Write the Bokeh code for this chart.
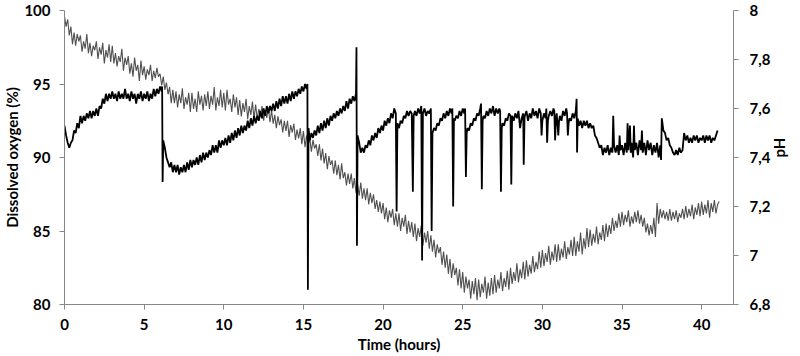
import math

from bokeh.embed import file_html
from bokeh.models import (ColumnDataSource, CustomJSTickFormatter, FixedTicker,
                          LinearAxis, Range1d)
from bokeh.plotting import figure
from bokeh.resources import INLINE

# Dissolved oxygen (%) logged every 0.1 h from t = 0, one row per hour
do_step_h = 0.1
do_values = [
    99.6, 98.9, 99.4, 98.3, 98.9, 97.7, 98.5, 97.6, 98.4, 97.9,
    98.3, 97.2, 97.9, 97.4, 98.4, 97.1, 97.8, 96.9, 97.6, 97.3,
    97.9, 96.7, 97.5, 97.0, 97.8, 96.4, 97.3, 96.8, 97.7, 96.5,
    97.6, 96.4, 97.1, 96.2, 96.9, 96.5, 97.4, 95.9, 96.8, 96.3,
    96.9, 95.7, 96.4, 95.5, 96.8, 95.9, 96.3, 95.2, 96.6, 95.6,
    96.2, 95.3, 96.0, 95.6, 96.3, 95.2, 95.9, 95.4, 96.1, 95.5,
    95.7, 94.9, 95.5, 94.6, 95.1, 94.3, 94.8, 93.7, 94.6, 93.7,
    94.5, 93.4, 94.3, 93.7, 94.7, 93.3, 94.1, 93.6, 94.4, 93.1,
    94.4, 93.3, 94.0, 93.1, 94.5, 93.6, 94.2, 93.2, 94.3, 93.5,
    94.5, 93.3, 94.2, 93.6, 94.8, 93.2, 94.1, 93.5, 94.6, 93.4,
    94.4, 93.2, 94.6, 93.6, 94.0, 93.1, 94.3, 93.4, 94.1, 92.9,
    93.9, 92.8, 93.7, 93.1, 94.0, 92.6, 93.5, 92.9, 93.8, 92.6,
    93.6, 92.6, 93.3, 92.8, 93.5, 92.5, 93.2, 92.7, 93.4, 92.4,
    93.2, 92.3, 92.9, 92.0, 92.8, 92.2, 92.6, 91.7, 92.5, 91.8,
    92.5, 91.4, 92.2, 91.7, 92.3, 91.2, 91.9, 91.3, 92.0, 90.9,
    91.8, 90.7, 91.5, 90.9, 91.3, 90.4, 91.2, 90.6, 90.9, 90.1,
    90.9, 89.8, 90.6, 89.6, 90.3, 89.2, 90.1, 89.5, 89.8, 88.9,
    89.8, 88.8, 89.5, 88.5, 89.6, 88.6, 89.0, 88.1, 88.9, 88.2,
    88.9, 87.9, 88.6, 87.6, 88.2, 87.4, 88.3, 87.2, 87.9, 87.1,
    87.9, 86.8, 87.6, 86.9, 87.5, 86.5, 87.1, 86.3, 87.0, 86.2,
    86.9, 85.8, 86.6, 85.6, 86.4, 85.9, 86.5, 85.4, 86.2, 85.3,
    86.2, 85.0, 85.9, 85.3, 86.1, 84.8, 85.7, 84.9, 85.6, 84.6,
    85.5, 84.3, 85.2, 84.6, 85.4, 84.0, 84.9, 84.2, 85.0, 83.8,
    84.7, 83.6, 84.4, 83.2, 84.1, 83.5, 83.9, 82.7, 83.6, 82.5,
    83.4, 82.1, 83.1, 81.8, 82.8, 82.0, 82.5, 81.3, 82.4, 81.1,
    82.2, 80.8, 81.9, 81.1, 81.7, 80.4, 81.6, 80.7, 81.8, 80.3,
    81.7, 80.5, 81.4, 80.8, 81.9, 80.4, 81.5, 80.6, 81.8, 80.7,
    82.0, 80.8, 81.7, 81.1, 82.2, 80.9, 81.8, 81.2, 82.3, 81.0,
    82.5, 81.4, 82.2, 81.6, 82.8, 81.5, 82.4, 81.8, 82.9, 81.7,
    83.0, 81.9, 82.7, 82.1, 83.3, 82.2, 82.9, 82.4, 83.6, 82.5,
    83.7, 82.6, 83.5, 82.9, 84.0, 82.7, 83.6, 83.0, 84.1, 82.9,
    84.1, 83.0, 83.8, 83.2, 84.3, 83.1, 83.9, 83.4, 84.4, 83.3,
    84.6, 83.3, 84.3, 83.6, 84.9, 83.4, 84.5, 83.8, 85.2, 83.9,
    85.1, 84.0, 84.8, 84.2, 85.3, 84.1, 84.9, 84.4, 85.4, 84.3,
    85.5, 84.6, 85.4, 84.8, 85.9, 85.0, 85.7, 85.2, 86.2, 85.3,
    86.3, 85.4, 86.1, 85.6, 86.4, 85.3, 86.0, 85.5, 86.3, 85.6,
    86.4, 85.5, 86.1, 85.3, 85.9, 84.9, 85.5, 84.7, 85.4, 84.8,
    85.9, 84.6, 86.9, 85.5, 86.5, 85.9, 86.4, 85.8, 86.3, 85.7,
    86.5, 85.7, 86.3, 85.8, 86.4, 85.6, 86.2, 85.9, 86.5, 85.8,
    86.7, 85.9, 86.5, 86.0, 86.8, 85.8, 86.6, 86.1, 86.9, 86.0,
    87.0, 86.1, 86.8, 86.2, 87.1, 85.9, 86.9, 86.3, 87.1, 86.2,
    86.8, 87.0,
]
do_time = [round(i * do_step_h, 2) for i in range(len(do_values))]

# pH readings as (time in hours, pH); the narrow dips and peaks are dosing events
ph_readings = [
    (0.0, 7.53), (0.1, 7.49), (0.2, 7.46), (0.3, 7.44), (0.4, 7.46), (0.5, 7.47),
    (0.6, 7.51), (0.7, 7.50), (0.8, 7.54), (0.9, 7.52),
    (1.0, 7.57), (1.1, 7.54), (1.2, 7.57), (1.3, 7.55), (1.4, 7.58), (1.5, 7.56),
    (1.6, 7.59), (1.7, 7.56), (1.8, 7.59), (1.9, 7.57),
    (2.0, 7.60), (2.1, 7.57), (2.2, 7.61), (2.3, 7.60), (2.4, 7.64), (2.5, 7.62),
    (2.6, 7.66), (2.7, 7.63), (2.8, 7.66), (2.9, 7.64),
    (3.0, 7.67), (3.1, 7.64), (3.2, 7.66), (3.3, 7.63), (3.4, 7.67), (3.5, 7.64),
    (3.6, 7.66), (3.7, 7.64), (3.8, 7.68), (3.9, 7.64),
    (4.0, 7.66), (4.1, 7.63), (4.2, 7.67), (4.3, 7.64), (4.4, 7.66), (4.5, 7.62),
    (4.6, 7.66), (4.7, 7.64), (4.8, 7.67), (4.9, 7.63),
    (5.0, 7.66), (5.1, 7.64), (5.2, 7.67), (5.3, 7.63), (5.4, 7.66), (5.5, 7.64),
    (5.6, 7.68), (5.7, 7.65), (5.8, 7.68), (5.9, 7.66),
    (6.0, 7.69), (6.1, 7.67), (6.13, 7.69),
    (6.16, 7.30), (6.2, 7.47), (6.3, 7.44), (6.4, 7.40), (6.5, 7.38), (6.6, 7.36),
    (6.7, 7.38), (6.8, 7.34), (6.9, 7.37),
    (7.0, 7.34), (7.1, 7.37), (7.2, 7.33), (7.3, 7.36), (7.4, 7.34), (7.5, 7.37),
    (7.6, 7.34), (7.7, 7.38), (7.8, 7.35), (7.9, 7.39),
    (8.0, 7.36), (8.1, 7.39), (8.2, 7.37), (8.3, 7.40), (8.4, 7.37), (8.5, 7.41),
    (8.6, 7.38), (8.7, 7.42), (8.8, 7.39), (8.9, 7.42),
    (9.0, 7.40), (9.1, 7.43), (9.2, 7.41), (9.3, 7.45), (9.4, 7.42), (9.5, 7.45),
    (9.6, 7.42), (9.7, 7.47), (9.8, 7.44), (9.9, 7.47),
    (10.0, 7.45), (10.1, 7.48), (10.2, 7.45), (10.3, 7.49), (10.4, 7.46), (10.5, 7.50),
    (10.6, 7.47), (10.7, 7.51), (10.8, 7.48), (10.9, 7.52),
    (11.0, 7.49), (11.1, 7.53), (11.2, 7.50), (11.3, 7.53), (11.4, 7.51), (11.5, 7.55),
    (11.6, 7.52), (11.7, 7.56), (11.8, 7.53), (11.9, 7.57),
    (12.0, 7.54), (12.1, 7.57), (12.2, 7.55), (12.3, 7.59), (12.4, 7.56), (12.5, 7.60),
    (12.6, 7.57), (12.7, 7.61), (12.8, 7.58), (12.9, 7.61),
    (13.0, 7.59), (13.1, 7.62), (13.2, 7.59), (13.3, 7.63), (13.4, 7.60), (13.5, 7.64),
    (13.6, 7.61), (13.7, 7.65), (13.8, 7.62), (13.9, 7.65),
    (14.0, 7.62), (14.1, 7.66), (14.2, 7.63), (14.3, 7.67), (14.4, 7.64), (14.5, 7.67),
    (14.6, 7.65), (14.7, 7.68), (14.8, 7.66), (14.9, 7.69),
    (15.0, 7.67), (15.1, 7.70), (15.2, 7.68), (15.25, 7.70),
    (15.28, 6.86), (15.32, 7.52), (15.4, 7.47), (15.5, 7.50), (15.6, 7.48),
    (15.7, 7.51), (15.8, 7.49), (15.9, 7.53),
    (16.0, 7.50), (16.1, 7.54), (16.2, 7.51), (16.3, 7.55), (16.4, 7.52), (16.5, 7.56),
    (16.6, 7.53), (16.7, 7.57), (16.8, 7.55), (16.9, 7.58),
    (17.0, 7.56), (17.1, 7.59), (17.2, 7.57), (17.3, 7.60), (17.4, 7.58), (17.5, 7.61),
    (17.6, 7.59), (17.7, 7.63), (17.8, 7.60), (17.9, 7.64),
    (18.0, 7.62), (18.1, 7.65), (18.2, 7.63), (18.3, 7.66),
    (18.33, 7.85), (18.36, 7.04), (18.4, 7.49), (18.5, 7.46), (18.6, 7.42),
    (18.7, 7.44), (18.8, 7.42), (18.9, 7.45),
    (19.0, 7.44), (19.1, 7.47), (19.2, 7.45), (19.3, 7.49), (19.4, 7.47), (19.5, 7.50),
    (19.6, 7.48), (19.7, 7.52), (19.8, 7.50), (19.9, 7.53),
    (20.0, 7.51), (20.1, 7.55), (20.2, 7.53), (20.3, 7.56), (20.4, 7.54), (20.5, 7.58),
    (20.6, 7.56), (20.7, 7.60), (20.8, 7.58),
    (20.85, 7.18), (20.9, 7.54), (21.0, 7.52), (21.1, 7.55), (21.2, 7.54), (21.3, 7.57),
    (21.4, 7.56), (21.5, 7.59), (21.6, 7.57), (21.7, 7.59), (21.8, 7.58),
    (21.87, 7.26), (21.92, 7.57), (22.0, 7.59), (22.1, 7.57), (22.2, 7.60),
    (22.3, 7.58), (22.4, 7.61),
    (22.45, 6.98), (22.5, 7.58), (22.6, 7.60), (22.7, 7.57), (22.8, 7.59),
    (22.9, 7.58), (23.0, 7.60),
    (23.05, 7.10), (23.1, 7.50), (23.2, 7.52), (23.3, 7.51), (23.4, 7.54), (23.5, 7.53),
    (23.6, 7.56), (23.7, 7.55), (23.8, 7.58), (23.9, 7.56),
    (24.0, 7.59), (24.1, 7.57), (24.2, 7.60), (24.3, 7.58), (24.35, 7.60),
    (24.4, 7.20), (24.45, 7.56), (24.5, 7.55), (24.6, 7.57), (24.7, 7.56), (24.8, 7.59),
    (24.9, 7.57), (25.0, 7.60), (25.1, 7.58), (25.15, 7.60),
    (25.2, 7.32), (25.25, 7.50), (25.3, 7.52), (25.4, 7.51), (25.5, 7.54), (25.6, 7.53),
    (25.7, 7.56), (25.8, 7.55), (25.9, 7.58), (26.0, 7.57), (26.1, 7.60), (26.15, 7.62),
    (26.2, 7.27), (26.25, 7.55), (26.3, 7.57), (26.4, 7.56), (26.5, 7.59), (26.6, 7.57),
    (26.7, 7.60), (26.8, 7.58), (26.9, 7.61), (27.0, 7.57), (27.1, 7.60), (27.2, 7.58),
    (27.3, 7.60), (27.35, 7.59),
    (27.4, 7.26), (27.45, 7.52), (27.5, 7.54), (27.6, 7.53), (27.7, 7.56), (27.8, 7.55),
    (27.9, 7.58), (28.0, 7.57),
    (28.05, 7.29), (28.1, 7.57), (28.2, 7.55), (28.3, 7.58), (28.4, 7.56), (28.5, 7.59),
    (28.6, 7.52), (28.7, 7.56), (28.8, 7.58),
    (28.83, 7.37), (28.88, 7.56), (28.9, 7.57), (29.0, 7.59), (29.1, 7.55), (29.2, 7.58),
    (29.3, 7.56), (29.4, 7.60), (29.5, 7.57), (29.6, 7.59), (29.7, 7.56), (29.8, 7.60),
    (29.9, 7.58), (29.95, 7.49), (30.0, 7.55), (30.1, 7.58), (30.2, 7.56), (30.25, 7.60),
    (30.3, 7.46), (30.35, 7.55), (30.4, 7.57), (30.5, 7.59), (30.6, 7.57), (30.7, 7.60),
    (30.75, 7.59), (30.8, 7.47), (30.85, 7.56), (30.9, 7.58),
    (31.0, 7.49), (31.05, 7.55), (31.1, 7.57), (31.2, 7.55), (31.3, 7.59), (31.4, 7.57),
    (31.5, 7.60), (31.55, 7.58), (31.6, 7.49), (31.65, 7.54), (31.7, 7.56), (31.8, 7.55),
    (31.9, 7.58), (32.0, 7.56), (32.1, 7.59),
    (32.15, 7.64), (32.18, 7.42), (32.22, 7.56), (32.3, 7.53), (32.4, 7.55), (32.5, 7.52),
    (32.6, 7.55), (32.7, 7.53), (32.8, 7.55), (32.9, 7.52),
    (33.0, 7.54), (33.1, 7.52), (33.2, 7.53), (33.3, 7.49), (33.4, 7.48), (33.5, 7.46),
    (33.6, 7.44), (33.7, 7.45), (33.8, 7.41), (33.9, 7.44),
    (34.0, 7.42), (34.1, 7.45), (34.2, 7.41), (34.3, 7.44), (34.4, 7.42), (34.45, 7.57),
    (34.5, 7.45), (34.6, 7.42), (34.7, 7.45), (34.8, 7.41), (34.85, 7.49), (34.9, 7.43),
    (35.0, 7.45), (35.1, 7.41), (35.2, 7.46), (35.3, 7.42), (35.35, 7.54), (35.4, 7.43),
    (35.5, 7.53), (35.55, 7.42), (35.6, 7.46), (35.7, 7.40), (35.75, 7.53), (35.8, 7.43),
    (35.9, 7.46),
    (36.0, 7.41), (36.1, 7.47), (36.2, 7.43), (36.25, 7.51), (36.3, 7.42), (36.4, 7.46),
    (36.5, 7.41), (36.6, 7.47), (36.7, 7.43), (36.8, 7.46), (36.9, 7.41),
    (37.0, 7.45), (37.1, 7.42), (37.2, 7.46), (37.3, 7.40), (37.4, 7.45), (37.45, 7.39),
    (37.5, 7.56), (37.6, 7.51), (37.7, 7.50), (37.8, 7.47), (37.9, 7.48),
    (38.0, 7.45), (38.1, 7.44), (38.2, 7.42), (38.3, 7.41), (38.4, 7.43), (38.5, 7.41),
    (38.6, 7.44), (38.7, 7.42), (38.8, 7.43), (38.9, 7.50),
    (39.0, 7.47), (39.1, 7.49), (39.2, 7.46), (39.3, 7.48), (39.4, 7.46), (39.5, 7.49),
    (39.6, 7.47), (39.7, 7.49), (39.8, 7.46), (39.9, 7.48),
    (40.0, 7.47), (40.1, 7.49), (40.2, 7.46), (40.3, 7.49), (40.4, 7.47), (40.5, 7.49),
    (40.6, 7.46), (40.7, 7.48), (40.8, 7.47), (40.9, 7.49), (41.0, 7.51),
]
ph_time = [t for t, _ in ph_readings]
ph_values = [v for _, v in ph_readings]

x_ticks = [0, 5, 10, 15, 20, 25, 30, 35, 40]
do_ticks = [80, 85, 90, 95, 100]
ph_ticks = [6.8, 7.0, 7.2, 7.4, 7.6, 7.8, 8.0]

FONT = "Lato"
AXIS_GREY = "#868686"

p = figure(
    width=800, height=356,
    x_range=Range1d(0, 42), y_range=Range1d(80, 100),
    output_backend="svg", toolbar_location=None,
    min_border_left=64, min_border_right=58,
    min_border_top=10, min_border_bottom=52,
    outline_line_color=None,
)
p.extra_y_ranges = {"ph": Range1d(6.8, 8.0)}
p.xgrid.visible = False
p.ygrid.visible = False


def style_axis(ax, label_standoff):
    ax.axis_line_color = AXIS_GREY
    ax.major_tick_line_color = AXIS_GREY
    ax.minor_tick_line_color = None
    ax.major_tick_in = 0
    ax.major_tick_out = 5
    ax.major_label_text_font = FONT
    ax.major_label_text_font_style = "bold"
    ax.major_label_text_font_size = "15px"
    ax.major_label_text_color = "black"
    ax.major_label_standoff = label_standoff
    ax.axis_label_text_font = FONT
    ax.axis_label_text_font_style = "bold"
    ax.axis_label_text_font_size = "15px"
    ax.axis_label_text_color = "black"


xa = p.xaxis[0]
xa.ticker = FixedTicker(ticks=x_ticks)
xa.axis_label = "Time (hours)"
style_axis(xa, 9)
xa.axis_label_standoff = 2

ya = p.yaxis[0]
ya.ticker = FixedTicker(ticks=do_ticks)
ya.axis_label = "Dissolved oxygen (%)"
style_axis(ya, 9)
ya.axis_label_standoff = 0

ph_axis = LinearAxis(
    y_range_name="ph",
    ticker=FixedTicker(ticks=ph_ticks),
    formatter=CustomJSTickFormatter(
        code="const v = Math.round(tick * 10) / 10; return v.toString().replace('.', ',');"
    ),
    axis_label="pH",
)
style_axis(ph_axis, 11)
ph_axis.axis_label_standoff = 6
ph_axis.axis_label_orientation = math.pi / 2
p.add_layout(ph_axis, "right")

do_src = ColumnDataSource(dict(t=do_time, v=do_values))
ph_src = ColumnDataSource(dict(t=ph_time, v=ph_values))

p.line("t", "v", source=do_src, line_color="#505050", line_width=1.1)
p.line("t", "v", source=ph_src, y_range_name="ph", line_color="black", line_width=1.8)

open("out.html", "w").write(file_html(p, INLINE))
